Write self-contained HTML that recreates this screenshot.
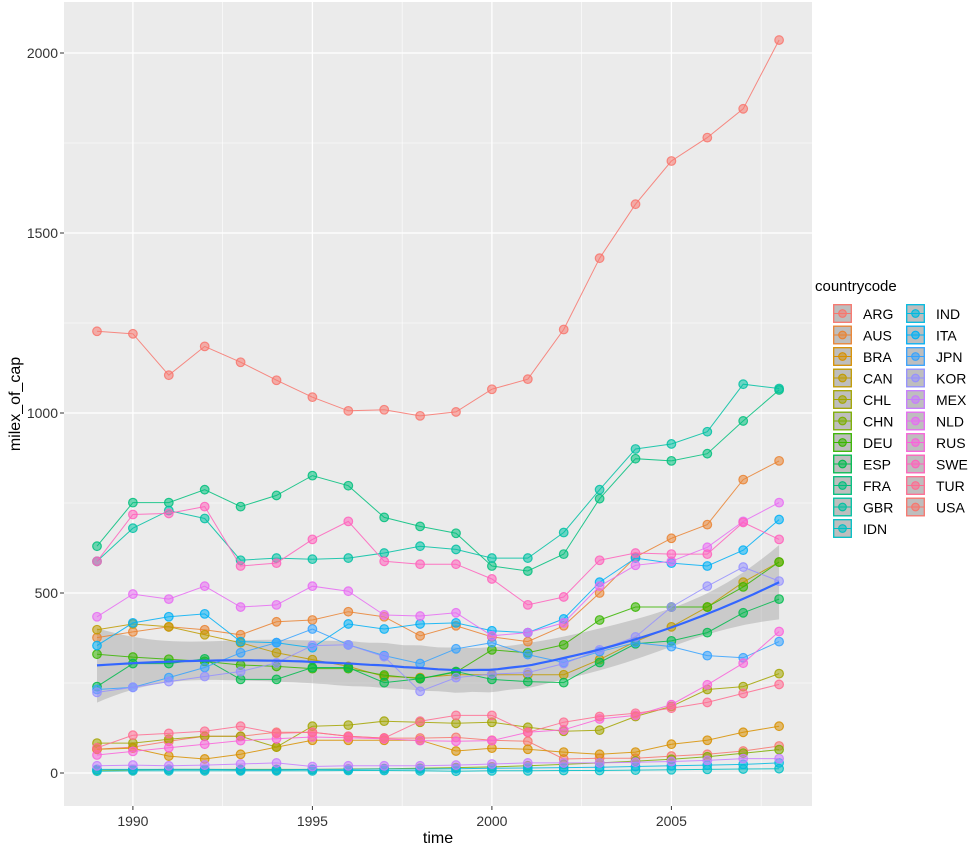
<!DOCTYPE html>
<html><head><meta charset="utf-8"><style>
html,body{margin:0;padding:0;background:#fff;}
svg text{font-family:"Liberation Sans",Arial,sans-serif;}
</style></head><body>
<svg id="chart" width="972" height="850" xmlns="http://www.w3.org/2000/svg">
<rect x="0" y="0" width="972" height="850" fill="#fff"/>
<rect x="64" y="2" width="748" height="804" fill="#EBEBEB"/>
<g id="grid"></g>
<g id="band"></g>
<g id="series"></g>
<g id="smooth"></g>
<g id="axes"></g>
<g id="legend"></g>
<text x="438" y="843" font-size="16" text-anchor="middle" fill="#000">time</text>
<text transform="translate(20,404) rotate(-90)" font-size="16" text-anchor="middle" fill="#000">milex_of_cap</text>
</svg>
<script>
const years = [1989,1990,1991,1992,1993,1994,1995,1996,1997,1998,1999,2000,2001,2002,2003,2004,2005,2006,2007,2008];
const colors = ["#F8766D","#EA8331","#D89000","#C09B00","#A3A500","#7CAE00","#39B600","#00BB4E","#00BF7D","#00C1A3","#00BFC4","#00BAE0","#00B0F6","#35A2FF","#9590FF","#C77CFF","#E76BF3","#FA62DB","#FF62BC","#FF6C91"];
const vARG = [66,72,88,102,102,113,113,102,97,97,99,91,88,39,41,41,47,52,61,75];
const vAUS = [376,392,406,398,384,420,425,448,434,381,409,378,365,409,500,600,652,690,815,867];
const vBRA = [66,69,47,39,52,72,91,91,91,91,61,69,66,58,52,58,80,91,113,130];
const vCAN = [398,414,406,384,362,334,315,296,268,265,273,273,273,273,315,365,406,461,530,586];
const vCHL = [83,83,94,102,102,72,130,133,144,141,138,141,127,116,119,157,185,232,240,276];
const vCHN = [8,9,10,10,10,10,10,11,12,13,15,17,20,24,28,33,38,45,55,65];
const vDEU = [330,322,316,310,300,296,290,290,272,262,280,342,334,356,425,461,461,461,517,586];
const vESP = [240,304,304,317,260,260,293,293,251,262,282,260,254,251,307,359,367,390,445,483];
const vFRA = [630,751,751,787,740,771,826,798,710,685,666,575,561,608,762,873,867,887,978,1064];
const vGBR = [588,680,729,707,591,597,594,597,611,630,621,597,597,668,787,900,914,948,1080,1068];
const vIDN = [5,6,6,6,6,6,6,7,7,6,5,6,6,7,7,8,9,10,11,12];
const vIND = [10,10,10,10,9,9,10,10,11,11,12,13,14,15,16,18,20,22,24,28];
const vITA = [354,417,434,442,365,362,348,414,400,414,417,395,390,428,530,597,583,575,619,704];
const vJPN = [232,238,265,293,334,362,400,356,326,304,345,362,329,307,337,362,351,326,320,365];
const vKOR = [224,238,254,268,282,306,354,356,323,227,265,275,279,304,342,378,461,519,572,533];
const vMEX = [20,22,20,22,25,28,18,20,20,20,22,25,28,28,28,30,32,35,40,40];
const vNLD = [434,497,483,519,461,467,519,505,439,436,445,381,390,417,519,577,588,627,699,751];
const vRUS = [50,60,70,80,90,95,100,98,95,90,88,90,113,120,150,160,190,245,305,393];
const vSWE = [588,718,721,740,575,583,649,699,588,580,580,539,467,489,591,611,608,608,696,649];
const vTUR = [70,105,110,116,130,110,113,102,97,144,160,160,113,141,157,166,180,196,221,246];
const vUSA = [1227,1220,1105,1185,1141,1091,1044,1006,1009,992,1003,1066,1094,1232,1430,1580,1700,1765,1845,2036];
const seriesValues = [vARG,vAUS,vBRA,vCAN,vCHL,vCHN,vDEU,vESP,vFRA,vGBR,vIDN,vIND,vITA,vJPN,vKOR,vMEX,vNLD,vRUS,vSWE,vTUR,vUSA];
const yTicks = [0,500,1000,1500,2000];
const xTicks = [1990,1995,2000,2005];
const names20 = ["ARG","AUS","BRA","CAN","CHL","CHN","DEU","ESP","FRA","GBR","IDN","IND","ITA","JPN","KOR","MEX","NLD","RUS","SWE","TUR","USA"];

const NS="http://www.w3.org/2000/svg";
const PL=64,PR=812,PT=2,PB=806;
function xs(v){return 97+(v-1989)*35.9;}
function ys(v){return 773-v*0.36;}
function mk(tag,attrs,parent){const e=document.createElementNS(NS,tag);for(const k in attrs)e.setAttribute(k,attrs[k]);parent.appendChild(e);return e;}

const grid=document.getElementById('grid');
for(let v=250;v<2150;v+=500){const y=ys(v);if(y>PT&&y<PB){const l=mk('line',{x1:PL,x2:PR,y1:y,y2:y,stroke:'#fff','stroke-width':0.6},grid);

}}
for(let v=1987.5;v<=2010;v+=5){const x=xs(v);if(x>PL&&x<PR){const l=mk('line',{x1:x,x2:x,y1:PT,y2:PB,stroke:'#fff','stroke-width':0.6},grid);

}}
yTicks.forEach(v=>{const y=ys(v);const l=mk('line',{x1:PL,x2:PR,y1:y,y2:y,stroke:'#fff','stroke-width':1.3},grid);

});
xTicks.forEach(v=>{const x=xs(v);const l=mk('line',{x1:x,x2:x,y1:PT,y2:PB,stroke:'#fff','stroke-width':1.3},grid);

});

const axes=document.getElementById('axes');
yTicks.forEach(v=>{const y=ys(v);mk('line',{x1:PL-4,x2:PL,y1:y,y2:y,stroke:'#333','stroke-width':1},axes);
const t=mk('text',{x:PL-6,y:y+5,'font-size':14,'text-anchor':'end',fill:'#333'},axes);t.textContent=v;

});
xTicks.forEach(v=>{const x=xs(v);mk('line',{x1:x,x2:x,y1:PB,y2:PB+4,stroke:'#333','stroke-width':1},axes);
const t=mk('text',{x:x,y:PB+20,'font-size':14,'text-anchor':'middle',fill:'#333'},axes);t.textContent=v;

});

const sg=document.getElementById('series');
seriesValues.forEach((vals,i)=>{
  const col=colors[i%colors.length];
  const g=mk('g',{},sg);
  
  
  const d=vals.map((v,j)=>(j?'L':'M')+xs(years[j]).toFixed(1)+','+ys(v).toFixed(1)).join('');
  mk('path',{d:d,fill:'none',stroke:col,'stroke-width':1,'stroke-opacity':0.85},g);
  vals.forEach((v,j)=>{const c=mk('circle',{cx:xs(years[j]),cy:ys(v),r:4.3,fill:col,'fill-opacity':0.55,stroke:col,'stroke-opacity':0.85,'stroke-width':1.2},g);
  
  });
});

const X=[],Y=[];
seriesValues.forEach(vals=>vals.forEach((v,j)=>{X.push(years[j]);Y.push(v);}));
const n=X.length,q=Math.floor(0.75*n);
function solve3(A,b){const M=A.map((r,i)=>r.concat([b[i]]));for(let i=0;i<3;i++){let p=i;for(let k=i+1;k<3;k++)if(Math.abs(M[k][i])>Math.abs(M[p][i]))p=k;[M[i],M[p]]=[M[p],M[i]];for(let k=i+1;k<3;k++){const f=M[k][i]/M[i][i];for(let c=i;c<4;c++)M[k][c]-=f*M[i][c];}}
const x=[0,0,0];for(let i=2;i>=0;i--){let s=M[i][3];for(let c=i+1;c<3;c++)s-=M[i][c]*x[c];x[i]=s/M[i][i];}return x;}
function lweights(x0){const d=X.map(x=>Math.abs(x-x0));const sd=d.slice().sort((a,b)=>a-b);const h=Math.max(sd[q-1],1e-6)*1.0001;
const w=d.map(di=>{const u=di/h;return u<1?Math.pow(1-u*u*u,3):0;});
const A=[[0,0,0],[0,0,0],[0,0,0]];for(let i=0;i<n;i++){const t=X[i]-x0,p=[1,t,t*t];for(let a=0;a<3;a++)for(let b=0;b<3;b++)A[a][b]+=w[i]*p[a]*p[b];}
const l=new Array(n).fill(0);
const inv0=solve3(A,[1,0,0]);
for(let i=0;i<n;i++){const t=X[i]-x0;l[i]=w[i]*(inv0[0]+inv0[1]*t+inv0[2]*t*t);}return l;}
let rss=0,tr=0;
for(let i=0;i<n;i++){const l=lweights(X[i]);let f=0;for(let k=0;k<n;k++)f+=l[k]*Y[k];rss+=(Y[i]-f)**2;tr+=l[i];}
const sigma=Math.sqrt(rss/(n-tr*1.1));
const up=[],lo=[],mid=[];
for(let s=0;s<=80;s++){const x0=1989+19*s/80;const l=lweights(x0);let f=0,ss=0;for(let k=0;k<n;k++){f+=l[k]*Y[k];ss+=l[k]*l[k];}
const se=sigma*Math.sqrt(ss)*1.97;mid.push([xs(x0),ys(f)]);up.push([xs(x0),ys(f+se)]);lo.push([xs(x0),ys(f-se)]);}
const bp='M'+up.map(p=>p[0].toFixed(1)+','+p[1].toFixed(1)).join('L')+'L'+lo.reverse().map(p=>p[0].toFixed(1)+','+p[1].toFixed(1)).join('L')+'Z';
const band=mk('path',{d:bp,fill:'#999','fill-opacity':0.4},document.getElementById('band'));


const sl=mk('path',{d:'M'+mid.map(p=>p[0].toFixed(1)+','+p[1].toFixed(1)).join('L'),fill:'none',stroke:'#3366FF','stroke-width':2.2},document.getElementById('smooth'));



const lg=document.getElementById('legend');
const tt=mk('text',{x:815,y:291,'font-size':15,fill:'#000'},lg);tt.textContent='countrycode';


names20.forEach((nm,i)=>{const col=colors[i%colors.length];const c=i<11?0:1,r=i<11?i:i-11;
const x=c?906:833,y=304+r*21.5;
const g=mk('g',{},lg);


mk('rect',{x:x,y:y,width:19,height:19,fill:'#EBEBEB'},g);
mk('rect',{x:x+0.7,y:y+0.7,width:17.6,height:17.6,fill:'#B3B3B3','fill-opacity':0.8,stroke:col,'stroke-width':1.3},g);
mk('line',{x1:x+1,x2:x+18,y1:y+9.5,y2:y+9.5,stroke:col,'stroke-width':1},g);
mk('circle',{cx:x+9.5,cy:y+9.5,r:3.8,fill:col,'fill-opacity':0.55,stroke:col,'stroke-width':1.1},g);
const t=mk('text',{x:x+30,y:y+15,'font-size':14,fill:'#000'},g);t.textContent=nm;});
</script>
</body></html>
